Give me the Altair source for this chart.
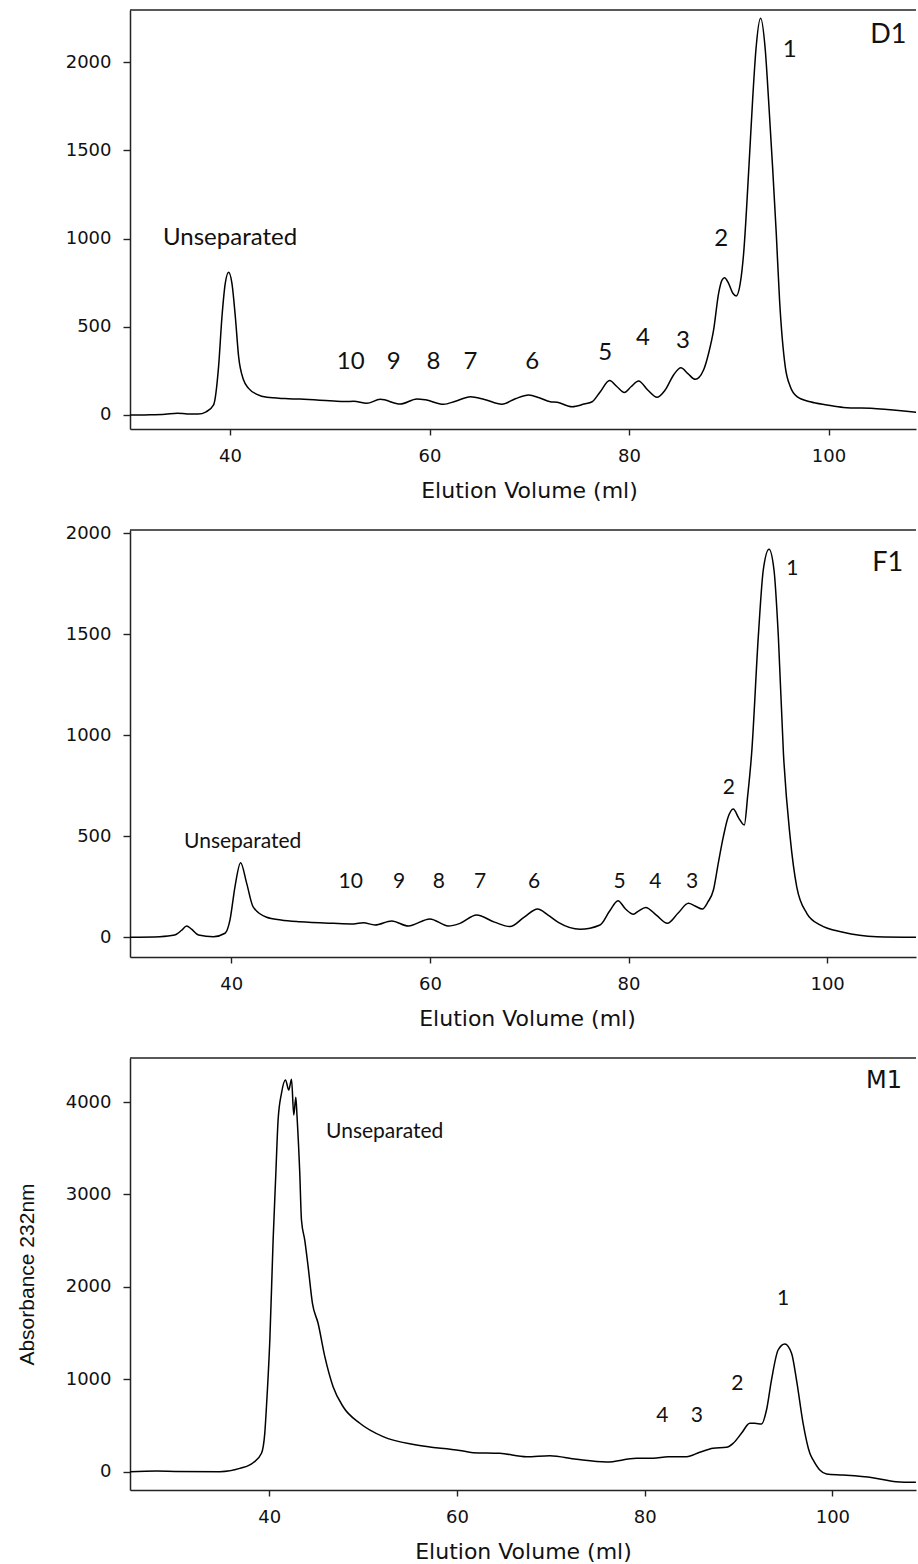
import altair as alt
import pandas as pd

# ---------------- D1 chromatogram ----------------
d1_ml = [30.0, 32.0, 33.5, 34.7, 35.7, 36.8, 37.6, 38.35, 38.85, 39.19, 39.52, 39.86, 40.19, 40.53,
         40.86, 41.36, 41.86, 42.7, 43.7, 45.5, 47.0, 49.0, 50.4, 51.5, 52.4, 53.7, 55.06, 57.07,
         58.74, 59.6, 61.4, 62.6, 64.1, 65.5, 67.26, 68.6, 69.93, 71.0, 72.1, 72.8, 74.3, 75.5,
         76.3, 77.1, 78.05, 78.8, 79.52, 80.2, 80.96, 81.9, 82.8, 83.6, 84.5, 85.2, 85.9, 86.64,
         87.47, 87.98, 88.48, 88.98, 89.32, 89.58, 89.98, 90.41, 90.75, 91.15, 91.49, 92.02,
         92.39, 92.72, 93.19, 93.66, 93.99, 94.39, 94.76, 95.09, 95.66, 96.17, 96.84, 98.17,
         99.84, 101.5, 104.85, 108.8]
d1_abs = [0, 1, 4, 10, 6, 5, 18, 57, 274, 557, 746, 809, 746, 557,
          331, 198, 151, 117, 100, 93, 90, 84, 79, 76, 78, 66, 89, 62,
          91, 86, 61, 78, 104, 88, 61, 92, 113, 98, 75, 72, 47, 62,
          75, 130, 195, 160, 128, 160, 193, 140, 100, 140, 230, 268, 235, 202,
          255, 350, 482, 690, 765, 778, 746, 690, 675, 746, 916, 1408,
          1786, 2069, 2249, 2069, 1786, 1408, 1030, 652, 274, 160, 104, 75,
          57, 43, 36, 16]
d1_labels = ["Unseparated", "10", "9", "8", "7", "6", "5", "4", "3", "2", "1"]
d1_label_ml = [40.0, 52.1, 56.4, 60.4, 64.1, 70.3, 77.6, 81.4, 85.4, 89.25, 96.1]
d1_label_abs = [1003, 300, 300, 300, 303, 298, 349, 434, 417, 1000, 2072]

# ---------------- F1 chromatogram ----------------
f1_ml = [29.8, 32.8, 34.3, 35.0, 35.5, 36.0, 36.7, 38.2, 39.37, 39.87, 40.37, 40.94, 41.55, 42.2,
         43.56, 45.0, 46.9, 50.27, 52.3, 53.3, 54.47, 56.15, 57.83, 60.0, 61.85, 63.03, 64.7,
         66.5, 68.06, 69.5, 70.85, 71.9, 72.93, 75.12, 77.13, 78.1, 78.94, 79.7, 80.49, 81.0,
         81.73, 82.8, 83.91, 85.0, 86.03, 86.7, 87.44, 88.0, 88.55, 89.05, 89.55, 90.0, 90.55,
         91.1, 91.66, 92.0, 92.4, 93.07, 93.57, 94.15, 94.65, 95.09, 95.6, 96.27, 96.94, 97.95,
         99.29, 101.6, 105.0, 108.95]
f1_abs = [0, 3, 11, 35, 56, 40, 11, 3, 20, 86, 250, 369, 267, 151,
          99, 86, 77, 69, 66, 72, 61, 81, 56, 91, 56, 69, 110,
          75, 53, 100, 140, 110, 74, 40, 61, 130, 181, 140, 114, 130,
          148, 110, 69, 120, 168, 155, 140, 175, 234, 370, 498, 590, 635,
          590, 556, 700, 911, 1488, 1818, 1921, 1818, 1488, 911, 498, 250, 119,
          61, 25, 3, 0]
f1_labels = ["Unseparated", "10", "9", "8", "7", "6", "5", "4", "3", "2", "1"]
f1_label_ml = [41.15, 52.03, 56.9, 60.9, 65.05, 70.5, 79.1, 82.7, 86.4, 90.1, 96.5]
f1_label_abs = [472, 276, 276, 276, 276, 276, 276, 276, 276, 739, 1821]

# ---------------- M1 chromatogram ----------------
m1_ml = [25.16, 27.98, 30.0, 34.73, 36.86, 38.28, 39.17, 39.52, 39.7, 40.06, 40.41, 40.7, 40.94,
         41.3, 41.73, 42.08, 42.37, 42.61, 42.83, 42.96, 43.25, 43.43, 43.78, 44.14, 44.6, 45.2,
         45.92, 46.8, 47.87, 49.65, 52.13, 55.69, 60.3, 61.72, 64.56, 67.41, 69.89, 72.73,
         75.93, 79.13, 80.9, 82.5, 84.46, 85.87, 87.29, 88.71, 89.42, 90.31, 91.2, 91.73,
         92.45, 92.98, 93.51, 94.22, 94.93, 95.65, 96.18, 96.88, 97.6, 97.95, 98.66, 99.37,
         101.1, 104.3, 106.8, 108.9]
m1_abs = [0, 7, 3, 0, 36, 97, 199, 415, 703, 1425, 2507, 3229, 3806,
          4095, 4239, 4130, 4247, 3860, 4052, 3842, 3229, 2724, 2507, 2219, 1822, 1606,
          1245, 920, 703, 524, 379, 289, 230, 206, 199, 162, 173, 134,
          105, 145, 145, 162, 162, 210, 253, 264, 307, 415, 524, 524,
          516, 668, 992, 1317, 1382, 1281, 992, 524, 199, 127, 18, -25,
          -36, -65, -108, -115]
m1_labels = ["Unseparated", "4", "3", "2", "1"]
m1_label_ml = [52.3, 81.88, 85.55, 89.87, 94.75]
m1_label_abs = [3680, 605, 605, 951, 1869]

# sample tags in the upper right corner of each panel
tags = ["D1", "F1", "M1"]
tag_ml = [106.0, 106.1, 105.5]
tag_abs = [2154, 1853, 4230]

x_ticks = [40, 60, 80, 100]
ink = "#111111"
frame = "#222222"


def panel(ml, ab, labels, label_ml, label_abs, label_size, tag_i, tag_font, tag_size,
          xdom, ydom, yvals, height, title_x, ytitle=""):
    trace = pd.DataFrame({"ml": ml, "abs": ab})
    notes = pd.DataFrame({"text": labels, "ml": label_ml, "abs": label_abs})
    tag = pd.DataFrame({"text": [tags[tag_i]], "ml": [tag_ml[tag_i]], "abs": [tag_abs[tag_i]]})

    xs = alt.Scale(domain=xdom, nice=False, zero=False)
    ys = alt.Scale(domain=ydom, nice=False, zero=False)

    x_axis = alt.Axis(values=x_ticks, title="Elution Volume (ml)", grid=False,
                      tickSize=6, tickWidth=1.4, tickColor=frame,
                      domainColor=frame, domainWidth=1.5,
                      labelFont="DejaVu Sans", labelFontSize=18, labelColor=ink, labelPadding=12,
                      titleFont="DejaVu Sans", titleFontSize=22, titleFontWeight="normal",
                      titleColor=ink, titleX=title_x, titleY=68, titleBaseline="alphabetic")
    y_opts = dict(values=yvals, format="d", grid=False,
                  tickSize=7, tickWidth=1.4, tickColor=frame,
                  domainColor=frame, domainWidth=1.5,
                  labelFont="DejaVu Sans", labelFontSize=18, labelColor=ink, labelPadding=12)
    if ytitle:
        y_axis = alt.Axis(title=ytitle, titleFont="Liberation Sans", titleFontSize=21,
                          titleFontWeight="normal", titleColor=ink, titleX=-97,
                          titleY=height / 2, titleBaseline="alphabetic", **y_opts)
    else:
        y_axis = alt.Axis(title=None, **y_opts)

    x_enc = alt.X("ml:Q", scale=xs, axis=x_axis)
    y_enc = alt.Y("abs:Q", scale=ys, axis=y_axis)

    line = alt.Chart(trace).mark_line(interpolate="monotone", color="black",
                                      strokeWidth=1.5, clip=True).encode(x=x_enc, y=y_enc)
    top = alt.Chart(pd.DataFrame({"k": [0]})).mark_rule(color=frame, strokeWidth=1.5).encode(
        y=alt.value(0)
    )
    text = alt.Chart(notes).mark_text(font="Lato", fontSize=label_size, color=ink,
                                      align="center", baseline="middle").encode(
        x=x_enc, y=y_enc, text="text:N"
    )
    corner = alt.Chart(tag).mark_text(font=tag_font, fontSize=tag_size, color=ink,
                                      align="center", baseline="middle").encode(
        x=x_enc, y=y_enc, text="text:N"
    )
    return alt.layer(line, top, text, corner).properties(width=786, height=height)


p1 = panel(d1_ml, d1_abs, d1_labels, d1_label_ml, d1_label_abs, 24, 0, "Lato", 27,
           [29.97, 108.77], [-79.4, 2296], [0, 500, 1000, 1500, 2000], 419, 399)
p2 = panel(f1_ml, f1_abs, f1_labels, f1_label_ml, f1_label_abs, 21, 1, "Lato", 27,
           [29.8, 108.95], [-97.5, 2016], [0, 500, 1000, 1500, 2000], 427, 397)
p3 = panel(m1_ml, m1_abs, m1_labels, m1_label_ml, m1_label_abs, 21, 2, "DejaVu Sans", 24,
           [25.16, 108.91], [-198, 4477], [0, 1000, 2000, 3000, 4000], 432, 393,
           ytitle="Absorbance 232nm")

chart = alt.vconcat(p1, p2, p3, spacing=101, bounds="flush").properties(
    padding={"left": 16, "right": 0, "top": 9, "bottom": 4},
    background="white",
).configure_view(strokeWidth=0)

chart.save("out.html", embed_options={"renderer": "svg", "actions": False})
